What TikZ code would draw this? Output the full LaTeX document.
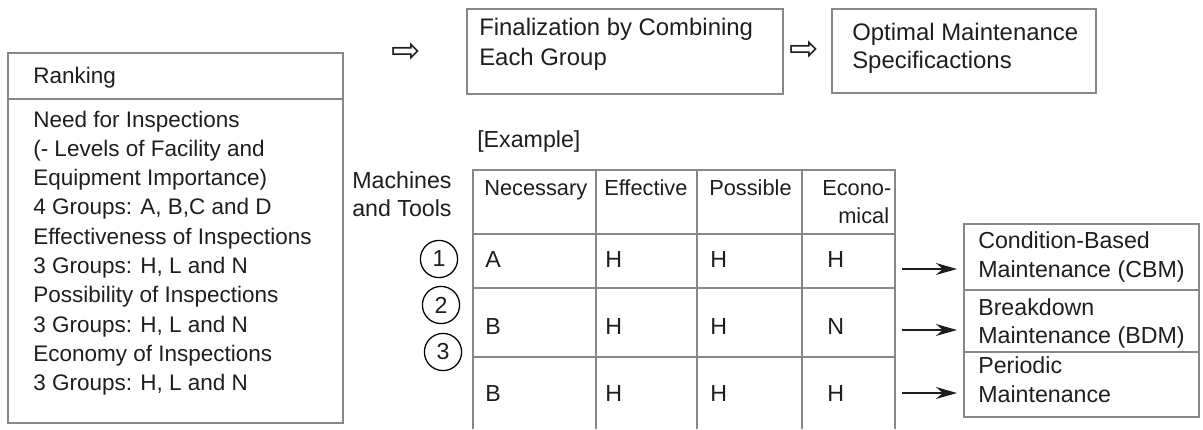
\documentclass[tikz,border=0pt]{standalone}
\usepackage{fontspec}
\setmainfont{Liberation Sans}
\newfontfamily\symfont{DejaVu Sans}
\usetikzlibrary{arrows.meta}

\definecolor{framegray}{HTML}{878787}
\definecolor{inkgray}{HTML}{1E1E1E}

\tikzset{
  frame/.style={draw=framegray, line width=1.8pt},
  txt/.style={anchor=base west, inner sep=0pt, text=inkgray, font=\fontsize{16.5}{20}\selectfont},
  ranktxt/.style={txt, font=\fontsize{16}{20}\selectfont},
  bigtxt/.style={txt, font=\fontsize{17}{20}\selectfont},
  headtxt/.style={txt, font=\fontsize{15.5}{20}\selectfont},
  num/.style={circle, draw=black, line width=0.9pt, minimum size=0.93cm, inner sep=0pt, text=inkgray, font=\fontsize{16.5}{20}\selectfont},
  hollow/.style={inner sep=0pt, text=inkgray, font=\symfont\fontsize{25}{30}\selectfont},
  goes/.style={-{Stealth[length=15pt,width=8.5pt]}, line width=1.2pt, draw=inkgray}
}

\begin{document}
\begin{tikzpicture}[x=0.025cm, y=-0.025cm]
  \useasboundingbox (0,0) rectangle (1203,429);

  % Ranking box
  \draw[frame] (8,53) rectangle (343,423);
  \draw[frame] (8,99) -- (343,99);
  \node[ranktxt] (rank) at (33,83) {Ranking};
  \foreach \line [count=\i] in {{Need for Inspections}, {(- Levels of Facility and},
      {Equipment Importance)}, {4 Groups: A, B,C and D}, {Effectiveness of Inspections},
      {3 Groups: H, L and N}, {Possibility of Inspections}, {3 Groups: H, L and N},
      {Economy of Inspections}, {3 Groups: H, L and N}}
    \node[ranktxt] (need\i) at (33,{127+29.3*(\i-1)}) {\line};

  % Top row
  \node[hollow] (go1) at (406,53) {⇨};
  \draw[frame] (467,9) rectangle (783,94);
  \node[bigtxt] (fin1) at (479,35) {Finalization by Combining};
  \node[bigtxt] (fin2) at (479,65) {Each Group};
  \node[hollow] (go2) at (804,51) {⇨};
  \draw[frame] (832,9) rectangle (1096,93);
  \node[bigtxt] (opt1) at (852,40) {Optimal Maintenance};
  \node[bigtxt] (opt2) at (852,68) {Specificactions};

  % Example table
  \node[txt] (ex) at (477,147) {[Example]};
  \node[txt] (mach1) at (352,188) {Machines};
  \node[txt] (mach2) at (352,216) {and Tools};
  \node[num] (m1) at (439,259) {1};
  \node[num] (m2) at (441,305) {2};
  \node[num] (m3) at (443,352) {3};

  \draw[frame] (473,429) -- (473,170) -- (895,170) -- (895,429);
  \foreach \x in {596,697,802}
    \draw[frame] (\x,170) -- (\x,429);
  \foreach \y in {234,288,357}
    \draw[frame] (473,\y) -- (895,\y);

  \node[headtxt] (h1) at (484,195) {Necessary};
  \node[headtxt] (h2) at (604,195) {Effective};
  \node[headtxt] (h3) at (709,195) {Possible};
  \node[headtxt] (h4) at (822,195) {Econo-};
  \node[headtxt] (h5) at (838,223) {mical};

  \foreach \y/\a/\b/\c/\d [count=\r] in {267/A/H/H/H, 334/B/H/H/N, 401/B/H/H/H} {
    \node[txt] (nec\r) at (485,\y) {\a};
    \node[txt] (eff\r) at (605,\y) {\b};
    \node[txt] (pos\r) at (710,\y) {\c};
    \node[txt] (eco\r) at (827,\y) {\d};
  }

  % Resulting maintenance types
  \draw[frame] (964,224) rectangle (1199,417);
  \draw[frame] (964,290) -- (1199,290);
  \draw[frame] (964,352) -- (1199,352);
  \node[txt] (cbm1) at (978,248) {Condition-Based};
  \node[txt] (cbm2) at (978,277) {Maintenance (CBM)};
  \node[txt] (bdm1) at (978,315) {Breakdown};
  \node[txt] (bdm2) at (978,343) {Maintenance (BDM)};
  \node[txt] (pm1) at (978,373) {Periodic};
  \node[txt] (pm2) at (978,402) {Maintenance};

  \foreach \y [count=\r] in {269,330,393} {
    \coordinate (out\r) at (902,\y);
    \coordinate (in\r) at (957,\y);
    \draw[goes] (out\r) -- (in\r);
  }
\end{tikzpicture}
\end{document}
